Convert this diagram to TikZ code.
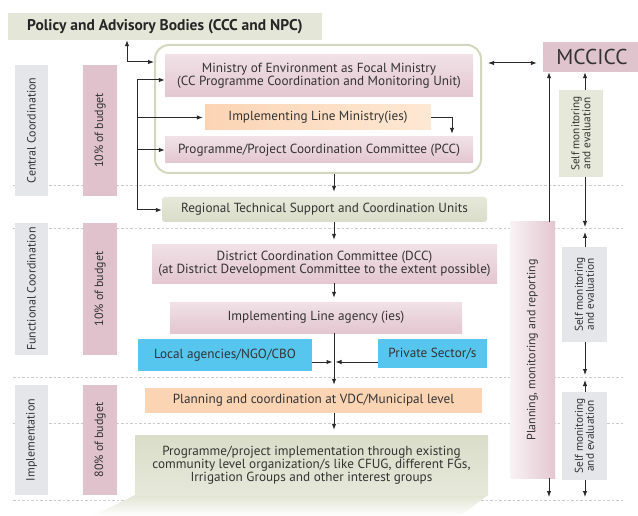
\documentclass[tikz,border=0pt]{standalone}
\usepackage{fontspec}
\setmainfont{PT Sans}
\usetikzlibrary{arrows.meta,calc}
\definecolor{txtc}{HTML}{333333}
\definecolor{linec}{HTML}{2A2A2A}
\definecolor{sepc}{HTML}{C9CBCC}
\definecolor{bannerc}{HTML}{E4E6D8}
\definecolor{contc}{HTML}{D3D7BD}
\definecolor{pinkT}{HTML}{F1E1E7}
\definecolor{pinkB}{HTML}{E3C6D0}
\definecolor{pinkL}{HTML}{DFC2CC}
\definecolor{peachL}{HTML}{FEE8D4}
\definecolor{peachD}{HTML}{FBD4B4}
\definecolor{bluec}{HTML}{56C6EF}
\definecolor{greenT}{HTML}{E6E8DA}
\definecolor{greenB}{HTML}{DADDC8}
\definecolor{grayc}{HTML}{E4E6EA}
\definecolor{mccc}{HTML}{DFC3CD}
\begin{document}
\begin{tikzpicture}[x=1pt,y=-1pt,
  box/.style={draw=none, inner sep=1pt, align=center, text=txtc, font=\fontsize{13.2}{13}\selectfont},
  pinkbox/.style={box, top color=pinkT, bottom color=pinkB},
  greenbox/.style={box, top color=greenT, bottom color=greenB},
  bluebox/.style={box, fill=bluec, text=black!80},
  lblbox/.style={draw=none, inner sep=0pt},
  vtext/.style={rotate=90, align=center, text=txtc, inner sep=0pt, font=\fontsize{12}{12}\selectfont},
  smtext/.style={rotate=90, align=center, text=txtc, inner sep=0pt, font=\fontsize{11.3}{11}\selectfont},
  arr/.style={draw=linec, line width=1pt, -{Latex[length=6pt,width=4.5pt]}},
  darr/.style={draw=linec, line width=1pt, {Latex[length=6pt,width=4.5pt]}-{Latex[length=6pt,width=4.5pt]}},
  plain/.style={draw=linec, line width=1pt},
  sep/.style={draw=sepc, line width=1pt, dash pattern=on 2.5pt off 2pt}
]
\useasboundingbox (0,0) rectangle (638,516);
\fill[white] (0,0) rectangle (638,516);

% separators
\foreach \yy in {186,229,377,423,500} \draw[sep] (13,\yy) -- (623,\yy);

% left labels
\node[lblbox, fill=grayc, minimum width=33, minimum height=131] (cbox) at (31.5,130.5) {};
\node[vtext] (ctext) at (cbox.center) {Central Coordination};
\node[lblbox, fill=pinkL, minimum width=34, minimum height=131] (b1box) at (100,130.5) {};
\node[vtext] (b1text) at (b1box.center) {10\% of budget};
\node[lblbox, fill=grayc, minimum width=33, minimum height=132] (fbox) at (31.5,289) {};
\node[vtext] (ftext) at (fbox.center) {Functional Coordination};
\node[lblbox, fill=pinkL, minimum width=34, minimum height=132] (b2box) at (100,289) {};
\node[vtext] (b2text) at (b2box.center) {10\% of budget};
\node[lblbox, fill=grayc, minimum width=33, minimum height=110] (ibox) at (31.5,440) {};
\node[vtext] (itext) at (ibox.center) {Implementation};
\node[lblbox, fill=pinkL, minimum width=34, minimum height=110] (b3box) at (100,440) {};
\node[vtext] (b3text) at (b3box.center) {80\% of budget};

% banner
\node[box, fill=bannerc, minimum width=314, minimum height=27, font=\bfseries\fontsize{15.5}{17}\selectfont, text=black!85] (banner) at (165,26.5) {Policy and Advisory Bodies (CCC and NPC)};

% container
\node[draw=contc, line width=2pt, rounded corners=14pt, fill=white, minimum width=326, minimum height=128] (container) at (318,109) {};

\node[pinkbox, minimum width=308, minimum height=42] (ministry) at (319,76) {Ministry of Environment as Focal Ministry\\(CC Programme Coordination and Monitoring Unit)};
\node[box, left color=peachD, right color=peachL, minimum width=226, minimum height=25] (implmin) at (318,117.5) {Implementing Line Ministry(ies)};
\node[pinkbox, minimum width=308, minimum height=26] (pcc) at (319,150) {Programme/Project Coordination Committee (PCC)};

\node[greenbox, rounded corners=3pt, minimum width=325, minimum height=25] (regional) at (324.5,209.5) {Regional Technical Support and Coordination Units};
\node[pinkbox, minimum width=345, minimum height=38] (dcc) at (324.5,264) {District Coordination Committee (DCC)\\(at District Development Committee to the extent possible)};
\node[pinkbox, minimum width=292, minimum height=31] (implag) at (316,317.5) {Implementing Line agency (ies)};
\node[bluebox, minimum width=174, minimum height=32] (local) at (225,355) {Local agencies/NGO/CBO};
\node[bluebox, minimum width=109, minimum height=29] (private) at (432.5,353.5) {Private Sector/s};
\node[box, fill=peachD, minimum width=337, minimum height=25] (planvdc) at (313.5,400.5) {Planning and coordination at VDC/Municipal level};
\shade[top color=greenB!80, bottom color=white] (135,495) -- (488,495) -- (460,516) -- (93,516) -- cycle;
\node[greenbox, top color=greenB, bottom color=greenT, minimum width=353, minimum height=60] (prog) at (311.5,465) {Programme/project implementation through existing\\community level organization/s like CFUG, different FGs,\\Irrigation Groups and other interest groups};

% right column
\node[box, fill=mccc, minimum width=98, minimum height=30, font=\fontsize{21.5}{22}\selectfont, text=black!80] (mccicc) at (592,57) {MCCICC};
\coordinate (pl) at (549,0);
\coordinate (sm) at (585,0);
\coordinate (pmrend) at (549,497);
\coordinate (a1) at (585,227);
\coordinate (a2) at (585,232);
\coordinate (a3) at (585,375);
\coordinate (a4) at (585,380);
\coordinate (a5) at (585,497);
\draw[darr] (mccicc.south -| sm) -- (a1);
\draw[darr] (a2) -- (a3);
\draw[darr] (a4) -- (a5);

\node[lblbox, left color=pinkT!40, right color=pinkB, minimum width=45, minimum height=256] (pmr) at (532.5,350) {};
\node[vtext] (pmrtext) at (pmr.center) {Planning, monitoring and reporting};
\node[lblbox, fill=greenT, minimum width=44, minimum height=87] (sm1) at (581,133.5) {};
\node[smtext] (sm1text) at (sm1.center) {Self monitoring\\and evaluation};
\node[lblbox, fill=grayc, minimum width=45, minimum height=95] (sm2) at (584.5,294.5) {};
\node[smtext] (sm2text) at (sm2.center) {Self monitoring\\and evaluation};
\node[lblbox, fill=grayc, minimum width=45, minimum height=88] (sm3) at (584.5,436) {};
\node[smtext] (sm3text) at (sm3.center) {Self monitoring\\and evaluation};

\draw[arr] (pmr.north -| pl) -- (mccicc.south -| pl);
\draw[arr] (pmr.south -| pl) -- (pmrend);

% connectors
\coordinate (j0) at (127,62);
\draw[arr] (j0) -- (j0 |- banner.south);
\draw[arr] (j0) -- (container.west |- j0);
\coordinate (t1) at (137,80);
\coordinate (t2) at (137,117.5);
\coordinate (t3) at (137,150);
\coordinate (t4) at (137,210);
\draw[plain] (t1) -- (t4);
\draw[arr] (t1) -- (ministry.west |- t1);
\draw[arr, shorten >=2pt] (t2) -- (implmin.west);
\draw[arr] (t3) -- (pcc.west);
\draw[arr] (t4) -- (regional.west |- t4);
\coordinate (k) at (452,0);
\draw[arr, shorten >=3pt] (implmin.east) -| (pcc.north -| k);
\coordinate (tr) at (334,0);
\draw[arr, shorten >=5pt] (container.south -| tr) -- (regional.north -| tr);
\draw[arr, shorten >=5pt] (regional.south -| tr) -- (dcc.north -| tr);
\draw[arr, shorten >=4pt] (dcc.south -| tr) -- (implag.north -| tr);
\draw[arr, shorten >=3pt] (implag.south -| tr) -- (planvdc.north -| tr);
\draw[arr, shorten >=5pt] (planvdc.south -| tr) -- (prog.north -| tr);
\coordinate (jn) at (334,362);
\draw[arr, shorten >=1.5pt] (local.east |- jn) -- (jn);
\draw[arr, shorten >=1.5pt] (private.west |- jn) -- (jn);
\coordinate (m) at (0,63);
\draw[darr, shorten <=6pt, shorten >=6pt] (container.east |- m) -- (mccicc.west |- m);
\end{tikzpicture}
\end{document}
